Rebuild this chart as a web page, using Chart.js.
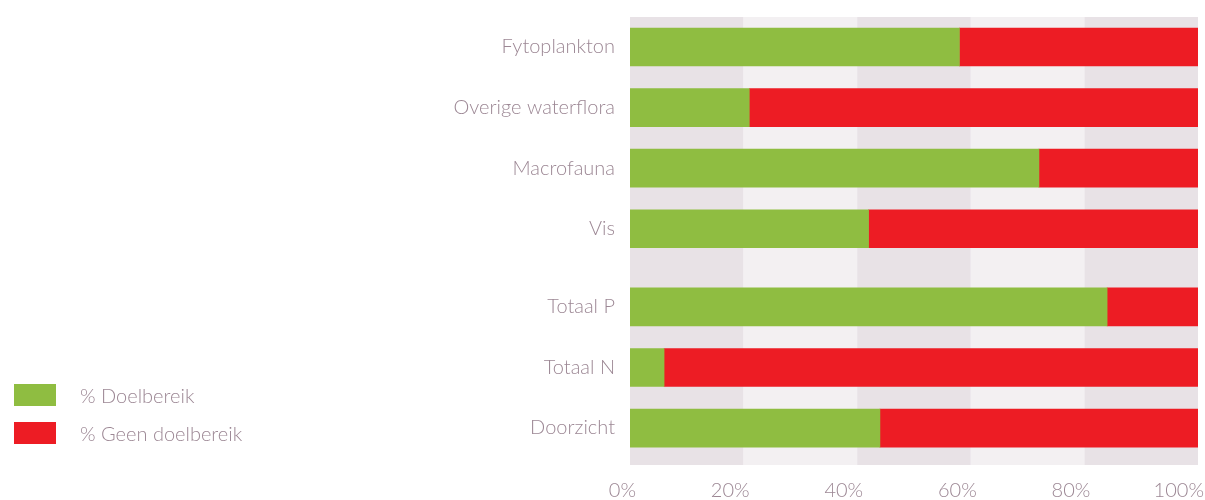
<!DOCTYPE html>
<html>
<head>
<meta charset="utf-8">
<title>Doelbereik</title>
<script src="https://cdn.jsdelivr.net/npm/chart.js@4.4.1/dist/chart.umd.min.js"></script>
<style>
  body { margin: 0; background: #fff; }
  #wrap { position: relative; width: 1205px; height: 500px; }
  .legend { position: absolute; left: 14px; top: 384px; font: 300 20px Lato, sans-serif; color: #9c8794; }
  .legend div { display: flex; align-items: center; height: 22px; margin-bottom: 16px; }
  .legend span { display: inline-block; width: 42px; height: 22px; margin-right: 24px; }
</style>
</head>
<body>
<div id="wrap">
  <canvas id="chart" width="1205" height="500"></canvas>
  <div class="legend">
    <div><span style="background:#8fbd41"></span>% Doelbereik</div>
    <div><span style="background:#ed1c24"></span>% Geen doelbereik</div>
  </div>
</div>
<script>
const categories = ['Fytoplankton', 'Overige waterflora', 'Macrofauna', 'Vis', 'Totaal P', 'Totaal N', 'Doorzicht'];
// 0 = biologie, 1 = fysisch-chemie
const groups = [0, 0, 0, 0, 1, 1, 1];
const doelbereik = [58, 21, 72, 42, 84, 6, 44];
const geenDoelbereik = [42, 79, 28, 58, 16, 94, 56];
const xTicks = [0, 20, 40, 60, 80, 100];

const GROUP_GAP = 0.29; // extra space between the two groups, in rows
const rowPos = categories.map((c, i) => i + groups[i] * GROUP_GAP);

const textColor = '#9c8794';
const font = { family: 'Lato', size: 20, weight: '300' };

// alternating vertical bands behind the bars, one per 20%
const bandsPlugin = {
  id: 'bands',
  beforeDatasetsDraw(chart) {
    const { ctx, chartArea, scales: { x } } = chart;
    ctx.save();
    for (let i = 0; i < xTicks.length - 1; i++) {
      const left = x.getPixelForValue(xTicks[i]);
      const right = x.getPixelForValue(xTicks[i + 1]);
      ctx.fillStyle = i % 2 === 0 ? '#e8e2e6' : '#f3f0f2';
      ctx.fillRect(left, chartArea.top, right - left, chartArea.bottom - chartArea.top);
    }
    ctx.restore();
  }
};

new Chart(document.getElementById('chart'), {
  type: 'bar',
  data: {
    datasets: [
      {
        label: '% Doelbereik',
        data: doelbereik.map((v, i) => ({ x: v, y: rowPos[i] })),
        backgroundColor: '#8fbd41',
        barThickness: 38
      },
      {
        label: '% Geen doelbereik',
        data: geenDoelbereik.map((v, i) => ({ x: v, y: rowPos[i] })),
        backgroundColor: '#ed1c24',
        barThickness: 38
      }
    ]
  },
  options: {
    indexAxis: 'y',
    responsive: false,
    animation: false,
    layout: { padding: { top: 17, right: 7, bottom: 0, left: 0 } },
    plugins: { legend: { display: false }, tooltip: { enabled: false } },
    scales: {
      x: {
        type: 'linear',
        stacked: true,
        min: 0,
        max: 100,
        grid: { display: false, drawTicks: false },
        border: { display: false },
        afterBuildTicks: s => { s.ticks = xTicks.map(v => ({ value: v })); },
        afterFit: s => { s.height = 35; s.paddingLeft = 0; s.paddingRight = 0; },
        ticks: {
          callback: v => v + '%',
          color: textColor,
          font: font,
          padding: 14,
          align: 'end',
          labelOffset: 6,
          maxRotation: 0
        }
      },
      y: {
        type: 'linear',
        stacked: true,
        reverse: true,
        offset: false,
        min: -0.495,
        max: 6.9,
        grid: { display: false, drawTicks: false, offset: false },
        border: { display: false },
        afterBuildTicks: s => { s.ticks = rowPos.map(v => ({ value: v })); },
        afterFit: s => { s.width = 630; s.paddingTop = 0; s.paddingBottom = 0; },
        ticks: {
          callback: (v, i) => categories[i],
          autoSkip: false,
          color: textColor,
          font: font,
          padding: 15
        }
      }
    }
  },
  plugins: [bandsPlugin]
});
</script>
</body>
</html>
